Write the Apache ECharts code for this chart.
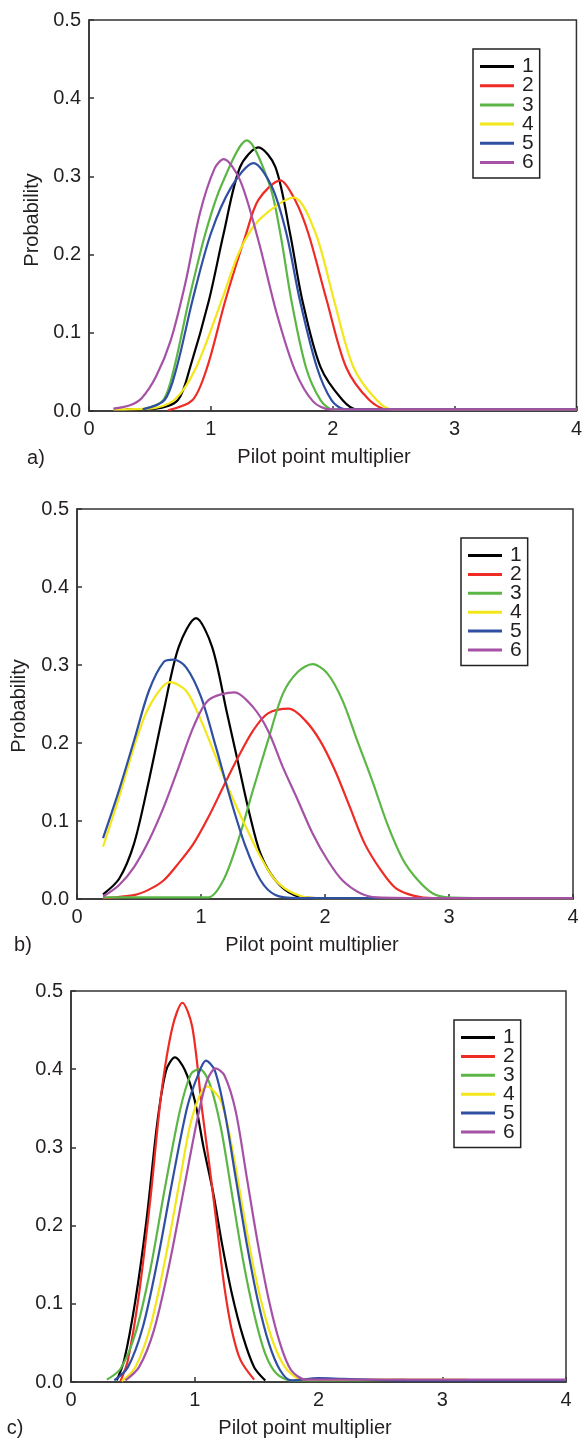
<!DOCTYPE html>
<html>
<head>
<meta charset="utf-8">
<script src="https://cdn.jsdelivr.net/npm/echarts@6/dist/echarts.min.js"></script>
<style>
  html, body { margin: 0; padding: 0; background: #fff; }
  #chart { width: 585px; height: 1441px; }
</style>
</head>
<body>
<div id="chart"></div>
<script>
// series names and colours
const names = ["1", "2", "3", "4", "5", "6"];
const colors = ["#000000", "#ee2b24", "#5cb646", "#f3e61a", "#2f4fa2", "#a552a6"];
const xTicks = [0, 1, 2, 3, 4];
const yTicks = [0, 0.1, 0.2, 0.3, 0.4, 0.5];

// panel a) [multiplier, probability]
const a1 = [[0.3,0.002],[0.55,0.003],[0.73,0.014],[0.83,0.056],[0.985,0.142],[1.105,0.227],[1.24,0.312],[1.39,0.337],[1.53,0.312],[1.65,0.227],[1.75,0.142],[1.9,0.056],[2.08,0.014],[2.2,0.002],[2.6,0.002],[4,0.002]];
const a2 = [[0.65,0.001],[0.85,0.014],[0.97,0.056],[1.12,0.142],[1.29,0.227],[1.39,0.27],[1.57,0.295],[1.69,0.27],[1.8,0.227],[1.95,0.142],[2.11,0.056],[2.3,0.014],[2.45,0.002],[2.8,0.002],[4,0.002]];
const a3 = [[0.44,0.002],[0.61,0.014],[0.7,0.056],[0.82,0.142],[0.955,0.227],[1.09,0.29],[1.295,0.346],[1.48,0.29],[1.57,0.227],[1.66,0.142],[1.78,0.056],[1.9,0.014],[2.0,0.002],[2.4,0.002],[4,0.002]];
const a4 = [[0.2,0.002],[0.5,0.003],[0.7,0.014],[0.88,0.056],[1.09,0.142],[1.24,0.206],[1.4,0.245],[1.68,0.273],[1.86,0.227],[2.01,0.142],[2.17,0.056],[2.36,0.014],[2.49,0.002],[2.9,0.002],[4,0.002]];
const a5 = [[0.44,0.002],[0.62,0.014],[0.72,0.056],[0.85,0.142],[1.0,0.227],[1.17,0.287],[1.35,0.317],[1.5,0.287],[1.62,0.227],[1.73,0.142],[1.87,0.056],[1.99,0.014],[2.1,0.002],[2.5,0.002],[4,0.002]];
const a6 = [[0.2,0.003],[0.33,0.007],[0.43,0.016],[0.55,0.044],[0.67,0.09],[0.79,0.163],[0.91,0.253],[1.03,0.31],[1.105,0.322],[1.24,0.295],[1.39,0.218],[1.54,0.125],[1.69,0.052],[1.84,0.012],[1.98,0.002],[2.4,0.002],[4,0.002]];

// panel b)
const b1 = [[0.21,0.006],[0.34,0.026],[0.46,0.071],[0.58,0.152],[0.7,0.242],[0.82,0.323],[0.96,0.36],[1.09,0.323],[1.21,0.238],[1.3,0.174],[1.39,0.11],[1.48,0.058],[1.6,0.024],[1.75,0.005],[1.93,0.001],[2.4,0.001],[4,0.001]];
const b2 = [[0.21,0.001],[0.46,0.005],[0.58,0.012],[0.7,0.024],[0.82,0.046],[0.94,0.071],[1.06,0.105],[1.18,0.144],[1.3,0.182],[1.42,0.216],[1.54,0.238],[1.71,0.244],[1.84,0.229],[1.96,0.203],[2.08,0.165],[2.2,0.118],[2.32,0.071],[2.45,0.037],[2.57,0.014],[2.72,0.004],[2.87,0.001],[3.3,0.001],[4,0.001]];
const b3 = [[0.21,0.002],[0.7,0.002],[1.06,0.002],[1.18,0.024],[1.3,0.075],[1.42,0.14],[1.54,0.203],[1.66,0.263],[1.78,0.291],[1.9,0.301],[2.02,0.289],[2.14,0.255],[2.26,0.203],[2.38,0.152],[2.51,0.093],[2.63,0.05],[2.75,0.024],[2.87,0.007],[2.99,0.002],[3.4,0.001],[4,0.001]];
const b4 = [[0.21,0.067],[0.34,0.131],[0.46,0.195],[0.58,0.246],[0.75,0.278],[0.88,0.267],[1.0,0.229],[1.12,0.182],[1.24,0.135],[1.36,0.093],[1.48,0.054],[1.6,0.024],[1.75,0.007],[1.93,0.001],[2.4,0.001],[4,0.001]];
const b5 = [[0.21,0.078],[0.34,0.14],[0.46,0.203],[0.58,0.267],[0.7,0.304],[0.78,0.307],[0.88,0.297],[1.0,0.259],[1.12,0.195],[1.24,0.127],[1.36,0.067],[1.48,0.024],[1.6,0.005],[1.78,0.001],[2.3,0.001],[4,0.001]];
const b6 = [[0.21,0.003],[0.34,0.018],[0.46,0.041],[0.58,0.075],[0.7,0.118],[0.82,0.169],[0.94,0.221],[1.06,0.255],[1.27,0.265],[1.42,0.246],[1.54,0.216],[1.66,0.169],[1.78,0.127],[1.9,0.084],[2.02,0.05],[2.14,0.024],[2.29,0.007],[2.42,0.002],[2.9,0.001],[4,0.001]];

// panel c)
const c1 = [[0.37,0.002],[0.43,0.028],[0.52,0.104],[0.61,0.207],[0.7,0.335],[0.77,0.399],[0.84,0.415],[0.92,0.399],[1.0,0.36],[1.07,0.301],[1.15,0.241],[1.22,0.177],[1.3,0.113],[1.39,0.058],[1.48,0.019],[1.57,0.002]];
const c2 = [[0.4,0.001],[0.46,0.028],[0.55,0.113],[0.64,0.232],[0.73,0.369],[0.82,0.454],[0.9,0.485],[0.98,0.454],[1.06,0.347],[1.12,0.275],[1.18,0.198],[1.24,0.121],[1.3,0.066],[1.37,0.028],[1.48,0.003]];
const c3 = [[0.29,0.003],[0.4,0.017],[0.52,0.062],[0.64,0.143],[0.76,0.249],[0.88,0.347],[0.97,0.394],[1.04,0.4],[1.12,0.382],[1.21,0.326],[1.3,0.241],[1.39,0.156],[1.48,0.087],[1.57,0.036],[1.66,0.011],[1.78,0.002],[2.2,0.002],[2.7,0.003]];
const c4 = [[0.41,0.001],[0.52,0.019],[0.64,0.07],[0.76,0.156],[0.88,0.258],[0.98,0.339],[1.1,0.378],[1.21,0.36],[1.3,0.301],[1.39,0.22],[1.48,0.143],[1.57,0.083],[1.66,0.04],[1.75,0.015],[1.87,0.003],[2.4,0.003],[3.2,0.003]];
const c5 = [[0.35,0.002],[0.46,0.019],[0.58,0.07],[0.7,0.156],[0.82,0.258],[0.94,0.352],[1.03,0.394],[1.09,0.411],[1.16,0.399],[1.24,0.347],[1.33,0.262],[1.42,0.177],[1.51,0.104],[1.6,0.049],[1.69,0.015],[1.78,0.002],[2.0,0.005],[2.2,0.004],[2.7,0.002],[4,0.002]];
const c6 = [[0.44,0.002],[0.55,0.019],[0.67,0.066],[0.79,0.147],[0.91,0.245],[1.03,0.343],[1.1,0.386],[1.17,0.401],[1.24,0.392],[1.33,0.347],[1.42,0.262],[1.51,0.177],[1.6,0.104],[1.69,0.049],[1.78,0.015],[1.9,0.003],[2.3,0.003],[4,0.003]];

const panels = [
    { grid: { left: 89, top: 20, width: 495, height: 391 }, data: [a1, a2, a3, a4, a5, a6], legend: { left: 473, top: 49, gap: -1.8 } },
    { grid: { left: 77, top: 509, width: 496, height: 390 }, data: [b1, b2, b3, b4, b5, b6], legend: { left: 461, top: 538, gap: -2.1 } },
    { grid: { left: 71, top: 991, width: 495, height: 391 }, data: [c1, c2, c3, c4, c5, c6], legend: { left: 454, top: 1020, gap: -2.1 } },
];

const font = "'Liberation Sans', Arial, Helvetica, sans-serif";
const ink = "#231f20";

const option = {
    animation: false,
    backgroundColor: "#fff",
    textStyle: { fontFamily: font, color: ink },
    grid: panels.map((p) => ({
        ...p.grid,
        show: true,
        borderColor: "#333",
        borderWidth: 1.5,
        backgroundColor: "transparent",
    })),
    xAxis: panels.map((p, i) => ({
        type: "value",
        gridIndex: i,
        min: xTicks[0],
        max: xTicks[xTicks.length - 1],
        interval: 1,
        axisLine: { lineStyle: { color: "#333", width: 1.5 } },
        axisTick: { inside: true, length: 5, lineStyle: { color: "#333", width: 1.5 } },
        axisLabel: { fontSize: 20, color: ink, margin: 8, fontFamily: font },
        splitLine: { show: false },
    })),
    yAxis: panels.map((p, i) => ({
        type: "value",
        gridIndex: i,
        min: yTicks[0],
        max: yTicks[yTicks.length - 1],
        interval: 0.1,
        axisLine: { show: true, lineStyle: { color: "#333", width: 1.5 } },
        axisTick: { show: true, inside: true, length: 5, lineStyle: { color: "#333", width: 1.5 } },
        axisLabel: {
            fontSize: 20,
            color: ink,
            margin: 8,
            fontFamily: font,
            formatter: (v) => v.toFixed(1),
        },
        splitLine: { show: false },
    })),
    legend: panels.map((p) => ({
        data: names,
        orient: "vertical",
        left: p.legend.left,
        top: p.legend.top,
        icon: "rect",
        itemWidth: 34,
        itemHeight: 3,
        itemGap: p.legend.gap,
        padding: [7, 6, 5, 7],
        borderColor: "#222",
        borderWidth: 1.5,
        selectedMode: false,
        textStyle: {
            fontSize: 21,
            lineHeight: 19,
            color: ink,
            fontFamily: font,
            padding: [0, 0, 0, 3],
        },
    })),
    series: [],
    graphic: [],
};

panels.forEach((p, i) => {
    p.data.forEach((d, k) => {
        option.series.push({
            type: "line",
            name: names[k],
            xAxisIndex: i,
            yAxisIndex: i,
            data: d,
            smooth: 0.3,
            symbol: "none",
            color: colors[k],
            lineStyle: { width: 2.2, color: colors[k] },
        });
    });
});

// axis titles and panel letters
const text = (x, y, str, extra) => ({
    type: "text",
    x: x,
    y: y,
    style: Object.assign(
        {
            text: str,
            font: `20px ${font}`,
            fill: ink,
            align: "center",
            verticalAlign: "middle",
        },
        extra || {}
    ),
});

option.graphic.push(text(324, 457, "Pilot point multiplier"));
option.graphic.push(text(312, 945, "Pilot point multiplier"));
option.graphic.push(text(305, 1428, "Pilot point multiplier"));
option.graphic.push(text(36, 458, "a)"));
option.graphic.push(text(23, 945, "b)"));
option.graphic.push(text(15, 1428, "c)"));
option.graphic.push(Object.assign(text(32, 220, "Probability"), { rotation: Math.PI / 2 }));
option.graphic.push(Object.assign(text(19, 706, "Probability"), { rotation: Math.PI / 2 }));

const chart = echarts.init(document.getElementById("chart"));
chart.setOption(option);
</script>
</body>
</html>
